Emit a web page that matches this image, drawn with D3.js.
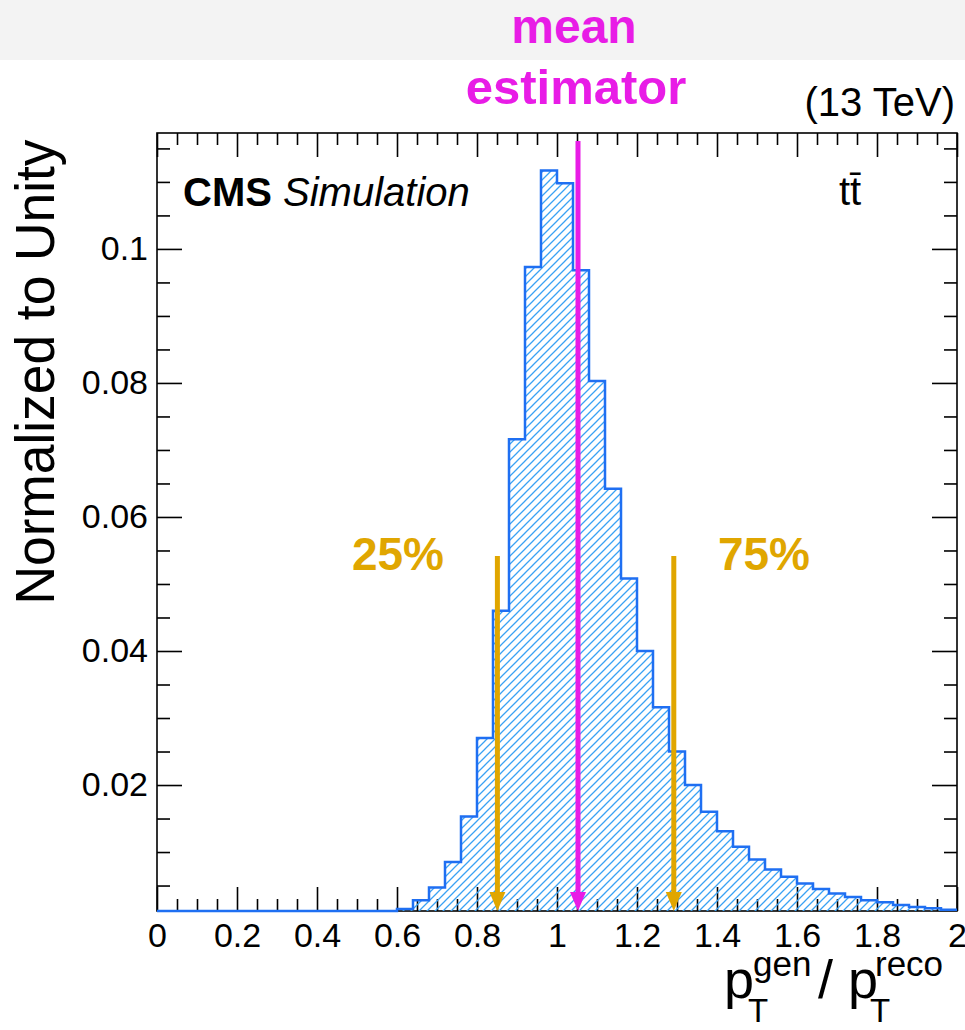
<!DOCTYPE html>
<html lang="en">
<head>
    <meta charset="UTF-8">
    <title>pT gen / reco</title>
    <style>
        body { margin: 0; background: #fff; }
        svg text { font-family: "Liberation Sans", Arial, sans-serif; }
    </style>
</head>
<body>
<div id="chart"></div>
<script src="https://d3js.org/d3.v7.min.js"></script>
<script>
// bin lower/upper edges (width 0.04)
const binEdges = [0, 0.04, 0.08, 0.12, 0.16, 0.2, 0.24, 0.28, 0.32, 0.36, 0.4, 0.44, 0.48, 0.52, 0.56,
    0.6, 0.64, 0.68, 0.72, 0.76, 0.8, 0.84, 0.88, 0.92, 0.96, 1.0, 1.04, 1.08, 1.12, 1.16,
    1.2, 1.24, 1.28, 1.32, 1.36, 1.4, 1.44, 1.48, 1.52, 1.56, 1.6, 1.64, 1.68, 1.72, 1.76,
    1.8, 1.84, 1.88, 1.92, 1.96, 2.0];

// normalized content per bin
const binValues = [0, 0, 0, 0, 0, 0, 0, 0, 0, 0, 0, 0, 0, 0, 0,
    0.0015, 0.0028, 0.0047, 0.0085, 0.0153, 0.0270, 0.0460, 0.0716, 0.0973, 0.1117,
    0.1098, 0.0968, 0.0803, 0.0642, 0.0508, 0.0400, 0.0316, 0.0250, 0.0200, 0.0160,
    0.0131, 0.0108, 0.0089, 0.0074, 0.0063, 0.0053, 0.0045, 0.0038, 0.0033, 0.0028,
    0.0025, 0.0021, 0.0018, 0.0016, 0.0014];

const xMajor = [0, 0.2, 0.4, 0.6, 0.8, 1, 1.2, 1.4, 1.6, 1.8, 2];
const xMinor = [0.05, 0.1, 0.15, 0.25, 0.3, 0.35, 0.45, 0.5, 0.55, 0.65, 0.7, 0.75, 0.85, 0.9, 0.95,
    1.05, 1.1, 1.15, 1.25, 1.3, 1.35, 1.45, 1.5, 1.55, 1.65, 1.7, 1.75, 1.85, 1.9, 1.95];
const yMajor = [0.02, 0.04, 0.06, 0.08, 0.1];
const yMinor = [0.005, 0.01, 0.015, 0.025, 0.03, 0.035, 0.045, 0.05, 0.055, 0.065, 0.07, 0.075,
    0.085, 0.09, 0.095, 0.105, 0.11, 0.115];

// marker arrows: position, label
const meanValue = 1.0525;
const quantiles = [
    { x: 0.851, label: "25%" },
    { x: 1.292, label: "75%" }
];

const W = 965, H = 1030;
const margin = { top: 133, right: 8, bottom: 119, left: 157 };
const width = W - margin.left - margin.right;
const height = H - margin.top - margin.bottom;

const svg = d3.select("#chart").append("svg")
    .attr("width", W)
    .attr("height", H);

// slide background strip at the top
svg.append("rect")
    .attr("width", W).attr("height", 60)
    .attr("fill", "#f3f3f3");

const defs = svg.append("defs");
const pat = defs.append("pattern")
    .attr("id", "hatch")
    .attr("patternUnits", "userSpaceOnUse")
    .attr("width", 8).attr("height", 8);
pat.append("path")
    .attr("d", "M-2,2 l4,-4 M0,8 l8,-8 M6,10 l4,-4")
    .attr("stroke", "#3aa2f4")
    .attr("stroke-width", 1.3);

defs.append("clipPath").attr("id", "plotclip")
    .append("rect").attr("y", -2).attr("width", width).attr("height", height + 4);

const g = svg.append("g")
    .attr("transform", `translate(${margin.left},${margin.top})`);

const x = d3.scaleLinear().domain([0, 2]).range([0, width]);
const y = d3.scaleLinear().domain([0.0012, 0.1173]).range([height, 0]).clamp(true);

// histogram step outline
const pts = [];
binValues.forEach((v, i) => {
    pts.push([binEdges[i], v]);
    pts.push([binEdges[i + 1], v]);
});
const area = d3.area()
    .x(d => x(d[0]))
    .y0(height)
    .y1(d => y(d[1]));
const line = d3.line()
    .x(d => x(d[0]))
    .y(d => y(d[1]));

const hist = g.append("g").attr("clip-path", "url(#plotclip)");
hist.append("path")
    .datum(pts)
    .attr("d", area)
    .attr("fill", "url(#hatch)");

// axes, ROOT style ticks pointing inwards
const fmt = d3.format("");
function styleAxis(sel) {
    sel.select(".domain").remove();
    sel.selectAll("line").attr("stroke", "#000").attr("stroke-width", 1.6);
    sel.selectAll("text").attr("fill", "#000").style("font-size", "34px")
        .style("font-family", "'Liberation Sans', Arial, sans-serif");
}

g.append("g")
    .attr("transform", `translate(0,${height})`)
    .call(d3.axisBottom(x).tickValues(xMajor).tickSize(-24).tickPadding(12).tickFormat(fmt))
    .call(styleAxis);
g.append("g")
    .attr("transform", `translate(0,${height})`)
    .call(d3.axisBottom(x).tickValues(xMinor).tickSize(-12).tickFormat(""))
    .call(styleAxis);
g.append("g")
    .call(d3.axisTop(x).tickValues(xMajor).tickSize(-24).tickFormat(""))
    .call(styleAxis);
g.append("g")
    .call(d3.axisTop(x).tickValues(xMinor).tickSize(-12).tickFormat(""))
    .call(styleAxis);

g.append("g")
    .call(d3.axisLeft(y).tickValues(yMajor).tickSize(-25).tickPadding(9).tickFormat(fmt))
    .call(styleAxis);
g.append("g")
    .call(d3.axisLeft(y).tickValues(yMinor).tickSize(-13).tickFormat(""))
    .call(styleAxis);
g.append("g")
    .attr("transform", `translate(${width},0)`)
    .call(d3.axisRight(y).tickValues(yMajor).tickSize(-25).tickFormat(""))
    .call(styleAxis);
g.append("g")
    .attr("transform", `translate(${width},0)`)
    .call(d3.axisRight(y).tickValues(yMinor).tickSize(-13).tickFormat(""))
    .call(styleAxis);

// frame
g.append("rect")
    .attr("width", width).attr("height", height)
    .attr("fill", "none")
    .attr("stroke", "#000")
    .attr("stroke-width", 1.6);

// outline drawn over the frame, like the reference
hist.append("path")
    .datum(pts)
    .attr("d", line)
    .attr("fill", "none")
    .attr("stroke", "#1f6ff2")
    .attr("stroke-width", 2.5);
hist.raise();

// arrows
function arrow(xv, yTop, color) {
    const px = x(xv);
    g.append("line")
        .attr("x1", px).attr("x2", px)
        .attr("y1", yTop).attr("y2", height - 12)
        .attr("stroke", color)
        .attr("stroke-width", 5);
    g.append("path")
        .attr("d", `M${px - 8},${height - 19} L${px + 8},${height - 19} L${px},${height} Z`)
        .attr("fill", color);
}
arrow(meanValue, 8, "#e81ce6");
quantiles.forEach(q => arrow(q.x, 556 - margin.top, "#e0a600"));

// labels inside frame
svg.append("text")
    .attr("x", 183).attr("y", 206)
    .style("font-size", "40px")
    .html('<tspan font-weight="bold">CMS</tspan> <tspan font-style="italic">Simulation</tspan>');

svg.append("text")
    .attr("x", 839).attr("y", 205)
    .style("font-size", "40px")
    .text("tt\u0304");

svg.append("text")
    .attr("x", 955).attr("y", 116)
    .attr("text-anchor", "end")
    .style("font-size", "40px")
    .text("(13 TeV)");

// y title
svg.append("text")
    .attr("transform", "translate(54,372) rotate(-90)")
    .attr("text-anchor", "middle")
    .attr("textLength", 465)
    .attr("lengthAdjust", "spacingAndGlyphs")
    .style("font-size", "56px")
    .text("Normalized to Unity");

// x title p_T^gen / p_T^reco
const xt = svg.append("g").style("font-size", "54px");
xt.append("text").attr("x", 724).attr("y", 998).text("p");
xt.append("text").attr("x", 753).attr("y", 976).style("font-size", "35px").text("gen");
xt.append("text").attr("x", 748).attr("y", 1022).style("font-size", "33px").text("T");
xt.append("text").attr("x", 818).attr("y", 998).text("/");
xt.append("text").attr("x", 848).attr("y", 998).text("p");
xt.append("text").attr("x", 875).attr("y", 976).style("font-size", "35px").text("reco");
xt.append("text").attr("x", 870).attr("y", 1022).style("font-size", "33px").text("T");

// annotations
const ann = svg.append("g")
    .style("font-family", "Lato, 'Open Sans', sans-serif")
    .style("font-weight", "bold")
    .attr("text-anchor", "middle");
ann.append("text").attr("x", 574).attr("y", 43).attr("fill", "#e81ce6")
    .style("font-size", "48px").text("mean");
ann.append("text").attr("x", 576).attr("y", 104).attr("fill", "#e81ce6")
    .style("font-size", "49px").text("estimator");
ann.append("text").attr("x", 398).attr("y", 570).attr("fill", "#e0a600")
    .style("font-size", "46px").text(quantiles[0].label);
ann.append("text").attr("x", 764).attr("y", 570).attr("fill", "#e0a600")
    .style("font-size", "46px").text(quantiles[1].label);
</script>
</body>
</html>
